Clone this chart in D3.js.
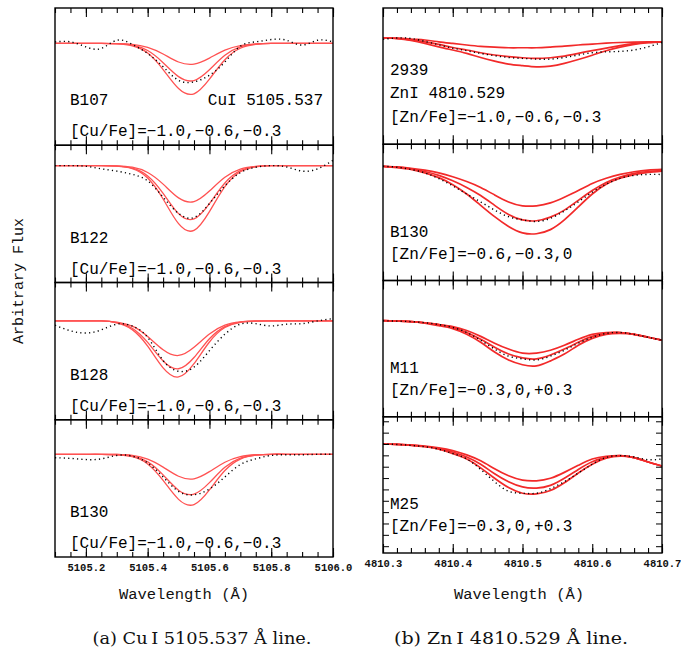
<!DOCTYPE html>
<html>
<head>
<meta charset="utf-8">
<script src="https://cdn.jsdelivr.net/npm/d3@7"></script>
<style>
  body { margin: 0; background: #fff; }
  svg { display: block; }
</style>
</head>
<body>
<svg id="contenedor"></svg>
<script>
// longitudes de onda de la malla (Å)
let ondaCu = [5105.10, 5105.15, 5105.20, 5105.25, 5105.30, 5105.35, 5105.40, 5105.45, 5105.50, 5105.55,
              5105.60, 5105.65, 5105.70, 5105.75, 5105.80, 5105.85, 5105.90, 5105.95, 5106.00];
let ondaZn = [4810.30, 4810.32, 4810.34, 4810.36, 4810.38, 4810.40, 4810.42, 4810.44, 4810.46, 4810.48, 4810.50,
              4810.52, 4810.54, 4810.56, 4810.58, 4810.60, 4810.62, 4810.64, 4810.66, 4810.68, 4810.70];

// etiquetas de los ejes x
let ticksCu = [5105.2, 5105.4, 5105.6, 5105.8, 5106.0];
let ticksZn = [4810.3, 4810.4, 4810.5, 4810.6, 4810.7];

// Cu I 5105.537 : espectro observado y tres sinteticos por estrella
let cuB107Obs = [1.007, 1.007, 0.985, 0.978, 1.014, 0.996, 0.956, 0.898, 0.839, 0.832, 0.861, 0.919, 0.988, 1.007, 1.017, 1.014, 0.993, 1.014, 1.007];
let cuB107Sint = [
  [1, 1, 1, 1, 0.999, 0.996, 0.983, 0.954, 0.919, 0.910, 0.936, 0.971, 0.991, 0.998, 1, 1, 1, 1, 1],
  [1, 1, 1, 1, 0.999, 0.993, 0.969, 0.916, 0.855, 0.838, 0.885, 0.948, 0.985, 0.997, 1, 1, 1, 1, 1],
  [1, 1, 1, 1, 0.998, 0.990, 0.958, 0.886, 0.803, 0.780, 0.844, 0.929, 0.979, 0.996, 1, 1, 1, 1, 1]
];
let cuB122Obs = [1.000, 1.000, 0.997, 0.986, 0.976, 0.962, 0.933, 0.862, 0.791, 0.773, 0.834, 0.912, 0.969, 0.993, 1.000, 0.994, 0.976, 0.986, 1.023];
let cuB122Sint = [
  [1, 1, 1, 1, 0.999, 0.993, 0.970, 0.919, 0.859, 0.843, 0.889, 0.949, 0.985, 0.997, 1, 1, 1, 1, 1],
  [1, 1, 1, 1, 0.998, 0.989, 0.955, 0.879, 0.790, 0.767, 0.834, 0.924, 0.978, 0.996, 1, 1, 1, 1, 1],
  [1, 1, 1, 1, 0.998, 0.987, 0.946, 0.854, 0.746, 0.717, 0.799, 0.908, 0.973, 0.995, 1, 1, 1, 1, 1]
];
let cuB128Obs = [0.981, 0.957, 0.947, 0.961, 0.986, 0.978, 0.928, 0.827, 0.780, 0.798, 0.870, 0.942, 0.986, 0.988, 0.978, 0.986, 0.988, 1.000, 1.010];
let cuB128Sint = [
  [1, 1, 1, 1, 0.995, 0.977, 0.932, 0.874, 0.849, 0.885, 0.943, 0.982, 0.996, 1, 1, 1, 1, 1, 1],
  [1, 1, 1, 1, 0.993, 0.968, 0.906, 0.825, 0.791, 0.840, 0.922, 0.975, 0.995, 0.999, 1, 1, 1, 1, 1],
  [1, 1, 1, 1, 0.992, 0.962, 0.890, 0.795, 0.755, 0.813, 0.908, 0.971, 0.994, 0.999, 1, 1, 1, 1, 1]
];
let cuB130Obs = [0.985, 0.982, 0.977, 0.980, 0.995, 0.992, 0.962, 0.901, 0.838, 0.823, 0.848, 0.901, 0.955, 0.980, 0.995, 0.998, 0.998, 1.000, 1.000];
let cuB130Sint = [
  [1, 1, 1, 1, 0.999, 0.995, 0.979, 0.944, 0.904, 0.893, 0.924, 0.965, 0.990, 0.998, 1, 1, 1, 1, 1],
  [1, 1, 1, 1, 0.999, 0.992, 0.967, 0.910, 0.843, 0.826, 0.876, 0.943, 0.983, 0.997, 1, 1, 1, 1, 1],
  [1, 1, 1, 1, 0.998, 0.990, 0.958, 0.886, 0.803, 0.780, 0.844, 0.929, 0.979, 0.996, 1, 1, 1, 1, 1]
];

// Zn I 4810.529
let zn2939Obs = [0.993, 0.999, 0.997, 0.984, 0.969, 0.954, 0.943, 0.931, 0.921, 0.913, 0.909, 0.906, 0.906, 0.913, 0.924, 0.934, 0.938, 0.940, 0.946, 0.960, 0.979];
let zn2939Sint = [
  [1.000, 0.999, 0.994, 0.990, 0.982, 0.975, 0.968, 0.962, 0.959, 0.956, 0.956, 0.956, 0.959, 0.963, 0.968, 0.972, 0.976, 0.979, 0.981, 0.982, 0.982],
  [1.000, 0.997, 0.991, 0.982, 0.971, 0.957, 0.946, 0.934, 0.924, 0.917, 0.912, 0.909, 0.912, 0.919, 0.931, 0.943, 0.954, 0.965, 0.974, 0.979, 0.982],
  [1.000, 0.996, 0.988, 0.975, 0.960, 0.946, 0.931, 0.913, 0.897, 0.884, 0.877, 0.872, 0.875, 0.887, 0.904, 0.923, 0.943, 0.959, 0.971, 0.978, 0.982]
];
let znB130Obs = [1.000, 0.996, 0.986, 0.971, 0.946, 0.914, 0.878, 0.843, 0.807, 0.778, 0.764, 0.757, 0.771, 0.803, 0.843, 0.886, 0.921, 0.947, 0.960, 0.964, 0.964];
let znB130Sint = [
  [1.000, 0.997, 0.991, 0.983, 0.971, 0.954, 0.933, 0.907, 0.874, 0.843, 0.826, 0.826, 0.839, 0.864, 0.893, 0.924, 0.947, 0.964, 0.976, 0.983, 0.986],
  [1.000, 0.996, 0.989, 0.977, 0.960, 0.936, 0.907, 0.871, 0.828, 0.788, 0.764, 0.760, 0.776, 0.807, 0.850, 0.893, 0.929, 0.953, 0.969, 0.977, 0.981],
  [1.000, 0.994, 0.986, 0.971, 0.950, 0.919, 0.878, 0.828, 0.778, 0.735, 0.707, 0.703, 0.721, 0.764, 0.821, 0.878, 0.921, 0.947, 0.963, 0.973, 0.979]
];
let znM11Obs = [1.000, 0.998, 0.996, 0.991, 0.983, 0.970, 0.948, 0.914, 0.875, 0.844, 0.832, 0.827, 0.844, 0.870, 0.901, 0.927, 0.944, 0.948, 0.940, 0.927, 0.914];
let znM11Sint = [
  [1.000, 0.998, 0.996, 0.991, 0.983, 0.974, 0.957, 0.931, 0.901, 0.875, 0.857, 0.857, 0.870, 0.892, 0.918, 0.940, 0.948, 0.948, 0.940, 0.927, 0.914],
  [1.000, 0.998, 0.996, 0.991, 0.983, 0.970, 0.948, 0.918, 0.883, 0.853, 0.836, 0.832, 0.849, 0.875, 0.905, 0.931, 0.944, 0.948, 0.940, 0.927, 0.914],
  [1.000, 0.998, 0.996, 0.989, 0.978, 0.965, 0.940, 0.905, 0.862, 0.827, 0.806, 0.801, 0.823, 0.853, 0.892, 0.922, 0.940, 0.944, 0.940, 0.927, 0.914]
];
let znM25Obs = [1.000, 0.998, 0.994, 0.988, 0.977, 0.958, 0.934, 0.888, 0.834, 0.792, 0.783, 0.783, 0.803, 0.834, 0.872, 0.911, 0.941, 0.949, 0.943, 0.931, 0.934];
let znM25Sint = [
  [1.000, 0.998, 0.995, 0.991, 0.983, 0.971, 0.952, 0.926, 0.891, 0.860, 0.841, 0.838, 0.849, 0.875, 0.906, 0.934, 0.946, 0.949, 0.940, 0.921, 0.903],
  [1.000, 0.998, 0.995, 0.989, 0.980, 0.965, 0.943, 0.911, 0.869, 0.834, 0.811, 0.806, 0.818, 0.849, 0.888, 0.922, 0.941, 0.949, 0.940, 0.921, 0.903],
  [1.000, 0.998, 0.994, 0.988, 0.977, 0.958, 0.934, 0.895, 0.849, 0.808, 0.783, 0.780, 0.795, 0.829, 0.872, 0.911, 0.937, 0.946, 0.940, 0.921, 0.903]
];

// textos de cada panel
let cuNombres = ["B107", "B122", "B128", "B130"];
let cuAbund = ["[Cu/Fe]=\u22121.0,\u22120.6,\u22120.3", "[Cu/Fe]=\u22121.0,\u22120.6,\u22120.3",
               "[Cu/Fe]=\u22121.0,\u22120.6,\u22120.3", "[Cu/Fe]=\u22121.0,\u22120.6,\u22120.3"];
let znNombres = ["2939", "B130", "M11", "M25"];
let znAbund = ["[Zn/Fe]=\u22121.0,\u22120.6,\u22120.3", "[Zn/Fe]=\u22120.6,\u22120.3,0",
               "[Zn/Fe]=\u22120.3,0,+0.3", "[Zn/Fe]=\u22120.3,0,+0.3"];
// tope del eje y de cada panel (el rango siempre abarca 0.6)
let cuTopes = [1.155, 1.089, 1.168, 1.151];
let znTopes = [1.131, 1.097, 1.177, 1.120];
let znPasosY = [0.05, 0.1, 0.05, 0.05];

let fuente = "'Liberation Mono', 'DejaVu Sans Mono', monospace";
let fuenteSerif = "'DejaVu Serif', 'Liberation Serif', serif";

let svg = d3.select("#contenedor").attr("width", 681).attr("height", 657);

// dibujar un panel con su espectro
function dibujarPanel(cfg, idx) {
  let x = d3.scaleLinear().domain(cfg.dominioX).range([cfg.x0, cfg.x1]);
  let y = d3.scaleLinear().domain([cfg.tope - 0.6, cfg.tope]).range([cfg.y1, cfg.y0]);

  let g = svg.append("g");
  let clipId = "clip" + cfg.lado + idx;
  g.append("clipPath").attr("id", clipId)
    .append("rect")
    .attr("x", cfg.x0).attr("y", cfg.y0)
    .attr("width", cfg.x1 - cfg.x0).attr("height", cfg.y1 - cfg.y0);

  // spline natural para que el fondo de la linea quede redondeado
  let linea = d3.line()
    .x((d, i) => x(cfg.onda[i]))
    .y((d) => y(d))
    .curve(d3.curveNatural);

  let cuerpo = g.append("g").attr("clip-path", `url(#${clipId})`);
  cuerpo.selectAll(".sint").data(cfg.sint).enter()
    .append("path")
    .attr("class", "sint")
    .attr("d", linea)
    .attr("fill", "none")
    .attr("stroke", cfg.rojo)
    .attr("stroke-width", cfg.grosor);

  cuerpo.append("path")
    .attr("d", linea(cfg.obs))
    .attr("fill", "none")
    .attr("stroke", "#000")
    .attr("stroke-width", 1.4)
    .attr("stroke-dasharray", "1.2,3.2");

  // marcas de los ejes, hacia adentro
  let menores = d3.range(cfg.dominioX[0], cfg.dominioX[1] + 1e-6, cfg.pasoMenor);
  let mayores = menores.filter((v) => Math.abs(v / cfg.pasoMayor - Math.round(v / cfg.pasoMayor)) < 1e-6);
  let ejes = [
    [d3.axisBottom(x).tickValues(menores).tickSize(-5), cfg.y1],
    [d3.axisBottom(x).tickValues(mayores).tickSize(-9), cfg.y1],
    [d3.axisTop(x).tickValues(menores).tickSize(-5), cfg.y0],
    [d3.axisTop(x).tickValues(mayores).tickSize(-9), cfg.y0]
  ];
  ejes.forEach(([eje, pos]) => {
    g.append("g")
      .attr("transform", `translate(0,${pos})`)
      .call(eje.tickFormat(""))
      .call((s) => s.select(".domain").remove())
      .selectAll("line").attr("stroke-width", 1.1);
  });
  let marcasY = d3.range(cfg.tope - 0.6, cfg.tope + 1e-6, 0.01)
    .filter((v) => Math.abs(v / cfg.pasoY - Math.round(v / cfg.pasoY)) < 1e-6 && v > cfg.tope - 0.595 && v < cfg.tope - 0.005);
  g.append("g")
    .attr("transform", `translate(${cfg.x0},0)`)
    .call(d3.axisLeft(y).tickValues(marcasY).tickSize(-6).tickFormat(""))
    .call((s) => s.select(".domain").remove());
  g.append("g")
    .attr("transform", `translate(${cfg.x1},0)`)
    .call(d3.axisRight(y).tickValues(marcasY).tickSize(-6).tickFormat(""))
    .call((s) => s.select(".domain").remove());

  g.append("rect")
    .attr("x", cfg.x0).attr("y", cfg.y0)
    .attr("width", cfg.x1 - cfg.x0).attr("height", cfg.y1 - cfg.y0)
    .attr("fill", "none").attr("stroke", "#000").attr("stroke-width", 1.4);

  // textos
  cfg.textos.forEach((t) => {
    g.append("text")
      .attr("x", t.x).attr("y", cfg.y1 - t.dy)
      .attr("text-anchor", t.ancla || "start")
      .attr("font-family", fuente).attr("font-size", 16)
      .attr("fill", "#000")
      .text(t.texto);
  });

  // etiquetas del eje x solo en el panel de abajo
  if (cfg.ultimo) {
    g.append("g")
      .attr("transform", `translate(0,${cfg.y1})`)
      .call(d3.axisBottom(x).tickValues(cfg.etiquetas).tickSize(0).tickPadding(7).tickFormat(d3.format(".1f")))
      .call((s) => s.select(".domain").remove())
      .selectAll("text")
      .attr("font-family", fuente).attr("font-size", 10.5).attr("font-weight", "bold").attr("fill", "#111");
  }
} // fin dibujarPanel

// columna del cobre
let cuObs = [cuB107Obs, cuB122Obs, cuB128Obs, cuB130Obs];
let cuSint = [cuB107Sint, cuB122Sint, cuB128Sint, cuB130Sint];
let altoCu = (557 - 8) / 4;
cuNombres.forEach((nombre, i) => {
  let textos = [
    { x: 70, dy: 40, texto: nombre },
    { x: 70, dy: 9, texto: cuAbund[i] }
  ];
  if (i == 0) textos.push({ x: 323, dy: 40, texto: "CuI 5105.537", ancla: "end" });
  dibujarPanel({
    lado: "cu", x0: 55, x1: 333, y0: 8 + i * altoCu, y1: 8 + (i + 1) * altoCu,
    dominioX: [5105.1, 5106.0], pasoMenor: 0.05, pasoMayor: 0.2, pasoY: 0.05,
    tope: cuTopes[i], onda: ondaCu, obs: cuObs[i], sint: cuSint[i],
    rojo: "#ff5252", grosor: 1.3, textos: textos, ultimo: i == 3, etiquetas: ticksCu
  }, i);
});

// columna del zinc
let znObs = [zn2939Obs, znB130Obs, znM11Obs, znM25Obs];
let znSint = [zn2939Sint, znB130Sint, znM11Sint, znM25Sint];
let altoZn = (553 - 8) / 4;
znNombres.forEach((nombre, i) => {
  let textos = [
    { x: 390, dy: i == 0 ? 69 : 44, texto: nombre },
    { x: 390, dy: 22, texto: znAbund[i] }
  ];
  if (i == 0) textos.push({ x: 390, dy: 46, texto: "ZnI 4810.529" });
  dibujarPanel({
    lado: "zn", x0: 383, x1: 662, y0: 8 + i * altoZn, y1: 8 + (i + 1) * altoZn,
    dominioX: [4810.3, 4810.7], pasoMenor: 0.02, pasoMayor: 0.1, pasoY: znPasosY[i],
    tope: znTopes[i], onda: ondaZn, obs: znObs[i], sint: znSint[i],
    rojo: "#f22a2a", grosor: 1.7, textos: textos, ultimo: i == 3, etiquetas: ticksZn
  }, i);
});

// titulos de ejes
svg.append("text")
  .attr("x", 184).attr("y", 599)
  .attr("text-anchor", "middle")
  .attr("font-family", fuente).attr("font-size", 15.5).attr("fill", "#111")
  .text("Wavelength (\u00c5)");
svg.append("text")
  .attr("x", 519).attr("y", 599)
  .attr("text-anchor", "middle")
  .attr("font-family", fuente).attr("font-size", 15.5).attr("fill", "#111")
  .text("Wavelength (\u00c5)");
svg.append("text")
  .attr("transform", "translate(23,281) rotate(-90)")
  .attr("text-anchor", "middle")
  .attr("font-family", fuente).attr("font-size", 15).attr("fill", "#111")
  .text("Arbitrary Flux");

// leyendas de las figuras
svg.append("text")
  .attr("x", 202).attr("y", 644)
  .attr("text-anchor", "middle")
  .attr("font-family", fuenteSerif).attr("font-size", 17).attr("fill", "#111")
  .attr("textLength", 219).attr("lengthAdjust", "spacingAndGlyphs")
  .text("(a) Cu\u2009I 5105.537 \u00c5 line.");
svg.append("text")
  .attr("x", 511).attr("y", 644)
  .attr("text-anchor", "middle")
  .attr("font-family", fuenteSerif).attr("font-size", 17).attr("fill", "#111")
  .attr("textLength", 234).attr("lengthAdjust", "spacingAndGlyphs")
  .text("(b) Zn\u2009I 4810.529 \u00c5 line.");
</script>
</body>
</html>
